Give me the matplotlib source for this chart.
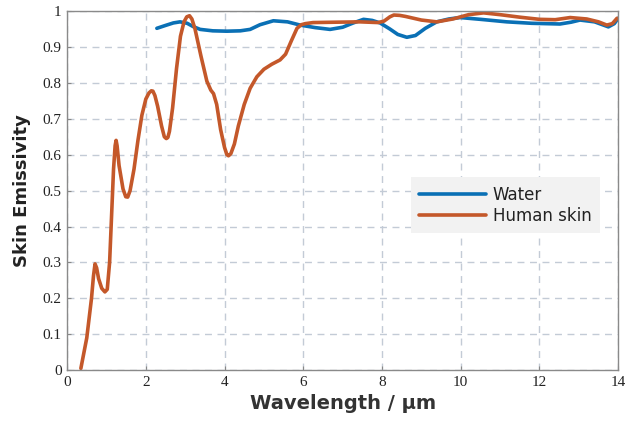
import matplotlib.pyplot as plt
import numpy as np

# human skin emissivity
skin_wl = [0.35, 0.5, 0.62, 0.67, 0.71, 0.75, 0.8, 0.88, 0.96, 1.02, 1.08, 1.13, 1.18, 1.22,
           1.245, 1.27, 1.32, 1.42, 1.49, 1.54, 1.6, 1.7, 1.8, 1.9, 2.0, 2.08, 2.14, 2.18,
           2.23, 2.3, 2.4, 2.47, 2.52, 2.56, 2.6, 2.68, 2.78, 2.88, 2.97, 3.04, 3.11,
           3.17, 3.25, 3.4, 3.55, 3.65, 3.72, 3.8, 3.9, 4.0, 4.06, 4.1, 4.16, 4.25, 4.35,
           4.5, 4.65, 4.82, 5.0, 5.2, 5.41, 5.55, 5.7, 5.84, 5.95, 6.05, 6.25, 6.8, 7.44,
           7.9, 8.05, 8.2, 8.3, 8.45, 8.6, 9.0, 9.39, 9.8, 10.2, 10.58, 11.0, 11.5, 12.0,
           12.4, 12.78, 13.2, 13.5, 13.71, 13.85, 13.97]
skin_em = [0.005, 0.09, 0.2, 0.262, 0.296, 0.285, 0.255, 0.228, 0.218, 0.225, 0.3, 0.43, 0.56, 0.625,
           0.64, 0.625, 0.57, 0.505, 0.483, 0.482, 0.5, 0.56, 0.64, 0.71, 0.755, 0.772, 0.778, 0.777,
           0.765, 0.735, 0.68, 0.65, 0.645, 0.648, 0.665, 0.73, 0.84, 0.93, 0.97, 0.984, 0.987,
           0.978, 0.95, 0.875, 0.805, 0.78, 0.77, 0.74, 0.67, 0.62, 0.6, 0.597, 0.603, 0.63, 0.68,
           0.74, 0.785, 0.817, 0.838, 0.852, 0.864, 0.88, 0.918, 0.952, 0.962, 0.965, 0.968, 0.969, 0.97,
           0.968, 0.972, 0.984, 0.989, 0.988, 0.985, 0.975, 0.97, 0.978, 0.99, 0.995, 0.99, 0.983, 0.977,
           0.976, 0.982, 0.978, 0.97, 0.961, 0.965, 0.98]

# water emissivity
water_wl = [2.28, 2.5, 2.7, 2.87, 3.05, 3.2, 3.38, 3.7, 4.06, 4.4, 4.65, 4.9, 5.24,
            5.6, 5.92, 6.3, 6.68, 7.0, 7.27, 7.53, 7.75, 7.95, 8.2, 8.4, 8.63, 8.85,
            9.1, 9.39, 9.7, 9.98, 10.5, 11.17, 11.8, 12.52, 12.8, 13.03, 13.4, 13.75,
            13.9, 14.0]
water_em = [0.952, 0.96, 0.967, 0.97, 0.966, 0.957, 0.949, 0.945, 0.944, 0.945, 0.949, 0.962, 0.973,
            0.97, 0.961, 0.954, 0.949, 0.955, 0.967, 0.977, 0.974, 0.967, 0.95, 0.935, 0.927, 0.932,
            0.952, 0.97, 0.978, 0.982, 0.977, 0.97, 0.966, 0.964, 0.969, 0.975, 0.97, 0.956,
            0.965, 0.98]

xticks = [0, 2, 4, 6, 8, 10, 12, 14]
yticks = [0, 0.1, 0.2, 0.3, 0.4, 0.5, 0.6, 0.7, 0.8, 0.9, 1]
ytick_labels = ['0', '0.1', '0.2', '0.3', '0.4', '0.5', '0.6', '0.7', '0.8', '0.9', '1']

blue = '#0A70B5'
orange = '#C4582A'

fig = plt.figure(figsize=(6.27, 4.26), dpi=100)
ax = fig.add_axes([0.107, 0.131, 0.879, 0.843])

ax.plot(water_wl, water_em, color=blue, lw=2.6, label='Water',
        solid_capstyle='round', solid_joinstyle='round')
ax.plot(skin_wl, skin_em, color=orange, lw=2.6, label='Human skin',
        solid_capstyle='round', solid_joinstyle='round')

ax.set_xlim(0, 14)
ax.set_ylim(0, 1)
ax.set_xticks(xticks)
ax.set_yticks(yticks)
ax.set_yticklabels(ytick_labels)
for lab in ax.get_xticklabels() + ax.get_yticklabels():
    lab.set_fontfamily('Liberation Serif')
    lab.set_fontsize(11)
    lab.set_color('#222222')
ax.tick_params(direction='in', length=3, color='#888888', pad=4)

ax.grid(True, ls=(0, (5, 4)), color='#c3cbd6', lw=1.0)
ax.set_axisbelow(True)
for s in ax.spines.values():
    s.set_color('#8a8a8a')
    s.set_linewidth(1.0)

ax.set_xlabel('Wavelength / μm', fontsize=14, fontweight='bold', color='#333333', labelpad=4)
ax.set_ylabel('Skin Emissivity', fontsize=13, fontweight='bold', color='#222222', labelpad=8)

leg = ax.legend(loc='upper left', bbox_to_anchor=(0.624, 0.537), frameon=True, fontsize=12,
                handlelength=4, handletextpad=0.4, borderpad=0.5, labelspacing=0.2,
                fancybox=False, borderaxespad=0)
leg.get_frame().set_facecolor('#f2f2f2')
leg.get_frame().set_edgecolor('none')
leg.get_frame().set_alpha(1)
for t in leg.get_texts():
    t.set_color('#222222')

fig.savefig('out.png', dpi=100)
